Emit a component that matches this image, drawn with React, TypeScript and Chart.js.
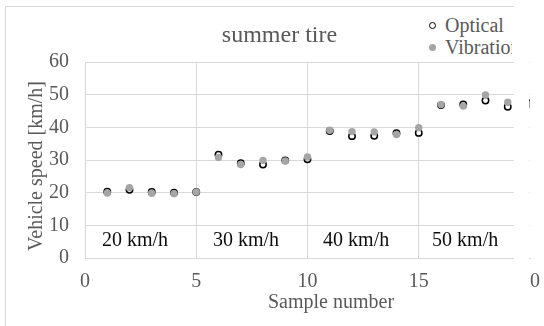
import React, { useEffect, useRef } from 'react';
import { Chart, registerables } from 'chart.js';
Chart.register(...registerables);

const samples = [1, 2, 3, 4, 5, 6, 7, 8, 9, 10, 11, 12, 13, 14, 15, 16, 17, 18, 19, 20];
const optical = [20.3, 20.9, 20.2, 20.0, 20.2, 31.6, 29.0, 28.6, 29.9, 30.2, 38.9, 37.3, 37.4, 38.2, 38.3, 46.8, 47.0, 48.2, 46.3, 47.3];
const vibration = [19.9, 21.5, 19.8, 19.7, 20.2, 30.8, 28.6, 29.9, 29.7, 30.9, 39.1, 38.7, 38.6, 37.8, 39.9, 47.0, 46.5, 49.9, 47.7, 47.0];
const speedLabels = ['20 km/h', '30 km/h', '40 km/h', '50 km/h'];
const speedLabelX = [0.76, 5.75, 10.7, 15.6];
const speedLabelY = 3.7;
const chartTitle = 'summer tire';
const xTitle = 'Sample number';
const yTitle = 'Vehicle speed [km/h]';
const seriesNames = ['Optical', 'Vibration'];
const X_MAX = 20;

const SERIF = '"Liberation Serif", "Times New Roman", serif';
const GRAY_TEXT = '#595959';
const GRID = '#d9d9d9';
const VIB_COLOR = '#a5a5a5';

const textPlugin = {
  id: 'textPlugin',
  afterDraw(chart: any) {
    const ctx = chart.ctx;
    const xs = chart.scales.x;
    const ys = chart.scales.y;
    ctx.save();
    ctx.textBaseline = 'alphabetic';
    ctx.font = `20px ${SERIF}`;
    ctx.fillStyle = '#0d0d0d';
    ctx.textAlign = 'left';
    speedLabels.forEach((t, i) => {
      ctx.fillText(t, xs.getPixelForValue(speedLabelX[i]), ys.getPixelForValue(speedLabelY));
    });
    ctx.fillStyle = GRAY_TEXT;
    ctx.textAlign = 'center';
    ctx.font = `24px ${SERIF}`;
    ctx.fillText(chartTitle, 279.5, 42);
    ctx.font = `20px ${SERIF}`;
    ctx.fillText(xTitle, 331, 308);
    ctx.translate(42, 166);
    ctx.rotate(-Math.PI / 2);
    ctx.fillText(yTitle, 0, 0);
    ctx.restore();
  },
};

export default function App() {
  const ref = useRef<HTMLCanvasElement>(null);
  useEffect(() => {
    const chart = new Chart(ref.current!, {
      type: 'scatter',
      data: {
        datasets: [
          {
            label: seriesNames[0],
            data: samples.map((x, i) => ({ x, y: optical[i] })),
            pointStyle: 'circle',
            pointRadius: 3.2,
            pointBackgroundColor: '#ffffff',
            pointBorderColor: '#000000',
            pointBorderWidth: 1.5,
            order: 2,
          },
          {
            label: seriesNames[1],
            data: samples.map((x, i) => ({ x, y: vibration[i] })),
            pointStyle: 'circle',
            pointRadius: 3.7,
            pointBackgroundColor: VIB_COLOR,
            pointBorderColor: VIB_COLOR,
            pointBorderWidth: 0,
            order: 1,
          },
        ],
      },
      options: {
        responsive: false,
        animation: false,
        layout: { padding: { left: 0, right: 14, top: 62, bottom: 0 } },
        plugins: { legend: { display: false }, tooltip: { enabled: false }, title: { display: false } },
        scales: {
          x: {
            type: 'linear',
            min: 0,
            max: X_MAX,
            ticks: { stepSize: 5, color: GRAY_TEXT, font: { family: SERIF, size: 20 }, padding: 12, maxRotation: 0 },
            grid: {
              color: (c: any) => (c.tick && c.tick.value === X_MAX ? 'rgba(0,0,0,0)' : GRID),
              drawTicks: false,
            },
            border: { color: GRID },
            afterFit: (s: any) => { s.height = 68; s.paddingLeft = 0; s.paddingRight = 0; },
          },
          y: {
            min: 0,
            max: 60,
            ticks: { stepSize: 10, color: GRAY_TEXT, font: { family: SERIF, size: 20 }, padding: 16 },
            grid: { color: GRID, drawTicks: false },
            border: { color: GRID },
            afterFit: (s: any) => { s.width = 85; s.paddingTop = 0; s.paddingBottom = 0; },
          },
        },
      },
      plugins: [textPlugin],
    });
    return () => chart.destroy();
  }, []);

  const legendRow = (name: string, marker: React.CSSProperties) => (
    <div style={{ display: 'flex', alignItems: 'center', height: 21.5, whiteSpace: 'nowrap' }}>
      <span style={{ display: 'inline-block', boxSizing: 'border-box', width: 7, height: 7, borderRadius: '50%', marginRight: 9, flex: 'none', ...marker }} />
      <span>{name}</span>
    </div>
  );

  return (
    <div style={{ position: 'fixed', left: 0, top: 0, width: 544, height: 326, background: '#fff', overflow: 'hidden' }}>
      <div style={{ position: 'absolute', left: 5, top: 6, width: 508, height: 330, borderLeft: `1px solid ${GRID}`, borderTop: `1px solid ${GRID}` }} />
      <canvas ref={ref} width={544} height={326} style={{ position: 'absolute', left: 0, top: 0 }} />
      <div style={{ position: 'absolute', left: 429, top: 15, width: 83, overflow: 'hidden', fontFamily: SERIF, fontSize: 20, color: GRAY_TEXT, lineHeight: '21.5px', background: '#fff' }}>
        {legendRow(seriesNames[0], { border: '1.5px solid #000', background: '#fff' })}
        {legendRow(seriesNames[1], { background: VIB_COLOR })}
      </div>
      <div style={{ position: 'absolute', left: 514, top: 0, width: 15, height: 326, background: '#fff' }} />
    </div>
  );
}
